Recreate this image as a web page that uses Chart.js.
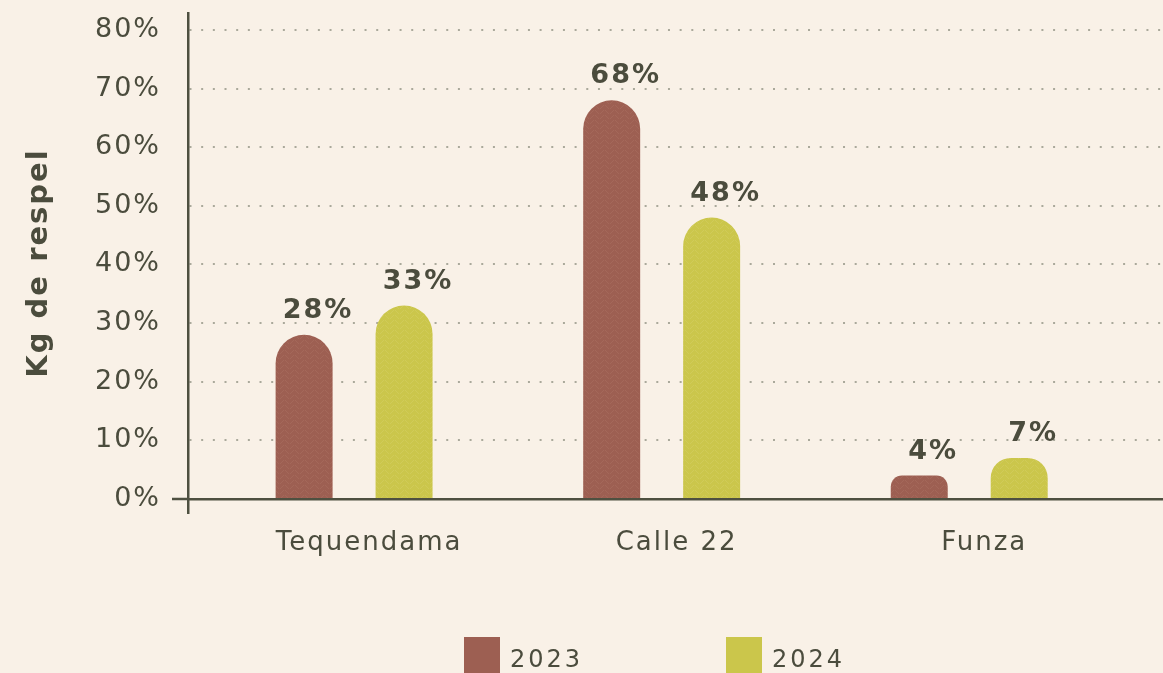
<!DOCTYPE html>
<html lang="es">
<head>
<meta charset="utf-8">
<title>Kg de respel por sede</title>
<script src="https://cdn.jsdelivr.net/npm/chart.js@4.4.1/dist/chart.umd.min.js"></script>
<style>
    html, body {
        margin: 0;
        padding: 0;
        background: #f9f1e7;
        overflow: hidden;
    }
    .wrap {
        position: relative;
        width: 1163px;
        height: 673px;
    }
    #legend {
        position: absolute;
        left: 464px;
        top: 637px;
        margin: 0;
        padding: 0;
        list-style: none;
        display: flex;
        font-family: "DejaVu Sans", sans-serif;
        font-size: 24px;
        letter-spacing: 3px;
        color: #4b4c3d;
    }
    #legend li {
        display: flex;
        align-items: flex-start;
        width: 262px;
    }
    #legend .box {
        width: 36px;
        height: 36px;
        margin-right: 10px;
    }
    #legend .txt {
        line-height: 36px;
        padding-top: 4px;
    }
</style>
</head>
<body>
<div class="wrap">
    <canvas id="respelChart" width="1163" height="673"></canvas>
    <ul id="legend"></ul>
</div>
<script>
const categories = ["Tequendama", "Calle 22", "Funza"];
const years = ["2023", "2024"];
const values2023 = [28, 68, 4];
const values2024 = [33, 48, 7];
const yTicks = [0, 10, 20, 30, 40, 50, 60, 70, 80];

const TEXT = "#4b4c3d";
const AXIS = "#4e5040";
const DOTS = "#aaa99b";
const BROWN = "#9d5f52";
const OLIVE = "#cbc64b";
const FONT = '"DejaVu Sans", sans-serif';

// small woven tile so the bars get the fabric look
function weave(base, light) {
    const tile = document.createElement("canvas");
    tile.width = 10;
    tile.height = 10;
    const c = tile.getContext("2d");
    c.fillStyle = base;
    c.fillRect(0, 0, 10, 10);
    c.strokeStyle = light;
    c.lineWidth = 1;
    c.beginPath();
    c.moveTo(0, 4); c.lineTo(4, 0);
    c.moveTo(5, 0); c.lineTo(9, 4);
    c.moveTo(0, 9); c.lineTo(4, 5);
    c.moveTo(5, 5); c.lineTo(9, 9);
    c.stroke();
    return c.createPattern(tile, "repeat");
}

// wider tracking for the canvas text
const tracking = {
    id: "tracking",
    beforeUpdate(chart) {
        chart.ctx.letterSpacing = "2px";
    },
    beforeDraw(chart) {
        chart.ctx.letterSpacing = "2px";
    },
};

const valueLabels = {
    id: "valueLabels",
    afterDatasetsDraw(chart) {
        const ctx = chart.ctx;
        ctx.save();
        ctx.font = "bold 27px " + FONT;
        ctx.fillStyle = TEXT;
        ctx.textAlign = "center";
        ctx.textBaseline = "middle";
        chart.data.datasets.forEach((ds, i) => {
            chart.getDatasetMeta(i).data.forEach((bar, j) => {
                ctx.fillText(ds.data[j] + "%", bar.x + 14, bar.y - 24);
            });
        });
        ctx.restore();
    },
};

Chart.defaults.font.family = FONT;
Chart.defaults.color = TEXT;

const ctx = document.getElementById("respelChart");
const chart = new Chart(ctx, {
    type: "bar",
    data: {
        labels: categories.map((_, i) => i),
        datasets: [
            {
                label: years[0],
                data: values2023,
                backgroundColor: weave(BROWN, "rgba(255, 214, 196, 0.08)"),
                swatch: BROWN,
            },
            {
                label: years[1],
                data: values2024,
                backgroundColor: weave(OLIVE, "rgba(255, 255, 214, 0.1)"),
                swatch: OLIVE,
            },
        ],
    },
    options: {
        responsive: false,
        animation: false,
        layout: {
            padding: { top: 13, right: 0, bottom: 0, left: 0 },
        },
        datasets: {
            bar: {
                categoryPercentage: 0.65,
                barPercentage: 0.57,
                borderRadius: { topLeft: 29, topRight: 29 },
                borderSkipped: "start",
            },
        },
        scales: {
            x: {
                type: "linear",
                offset: false,
                min: -0.54,
                max: 2.63,
                afterBuildTicks: (scale) => {
                    scale.ticks = categories.map((_, i) => ({ value: i }));
                },
                afterFit: (scale) => {
                    scale.height = 160;
                },
                ticks: {
                    callback: (value) => categories[value],
                    autoSkip: false,
                    maxRotation: 0,
                    padding: 15,
                    labelOffset: 15,
                    font: { size: 26 },
                    color: TEXT,
                },
                grid: { display: false, drawTicks: false },
                border: { display: false },
            },
            y: {
                min: -2.4,
                max: 82.9,
                afterBuildTicks: (scale) => {
                    scale.ticks = yTicks.map((v) => ({ value: v }));
                },
                afterFit: (scale) => {
                    scale.width = 188;
                    // the top tick sits below the axis end, no extra room needed
                    scale.paddingTop = 0;
                    scale.paddingBottom = 0;
                },
                ticks: {
                    callback: (value) => value + "%",
                    padding: 11,
                    font: { size: 27 },
                    color: TEXT,
                },
                grid: {
                    color: (c) => (c.tick && c.tick.value === 0 ? "transparent" : DOTS),
                    lineWidth: 2,
                    tickLength: 16,
                    tickWidth: 2.5,
                    tickColor: (c) => (c.tick && c.tick.value === 0 ? AXIS : "transparent"),
                },
                border: {
                    color: AXIS,
                    width: 2.5,
                    dash: [2, 9.67],
                },
                title: {
                    display: true,
                    text: "Kg de respel",
                    color: TEXT,
                    font: { size: 29, weight: "bold" },
                    padding: { top: 22, bottom: 0 },
                },
            },
            // solid baseline at 0%, drawn over the bars
            yZero: {
                position: "right",
                min: -2.4,
                max: 82.9,
                afterBuildTicks: (scale) => {
                    scale.ticks = [{ value: 0 }];
                },
                afterFit: (scale) => {
                    scale.width = 0;
                    scale.paddingTop = 0;
                    scale.paddingBottom = 0;
                },
                ticks: { display: false },
                grid: {
                    color: AXIS,
                    lineWidth: 2.5,
                    drawTicks: false,
                    z: 1,
                },
                border: { display: false },
            },
        },
        plugins: {
            legend: { display: false },
            tooltip: { enabled: false },
        },
    },
    plugins: [tracking, valueLabels],
});

// html legend from the datasets
const legendEl = document.getElementById("legend");
chart.data.datasets.forEach((ds) => {
    const li = document.createElement("li");
    const box = document.createElement("span");
    box.className = "box";
    box.style.background = ds.swatch;
    const txt = document.createElement("span");
    txt.className = "txt";
    txt.textContent = ds.label;
    li.appendChild(box);
    li.appendChild(txt);
    legendEl.appendChild(li);
});
</script>
</body>
</html>
